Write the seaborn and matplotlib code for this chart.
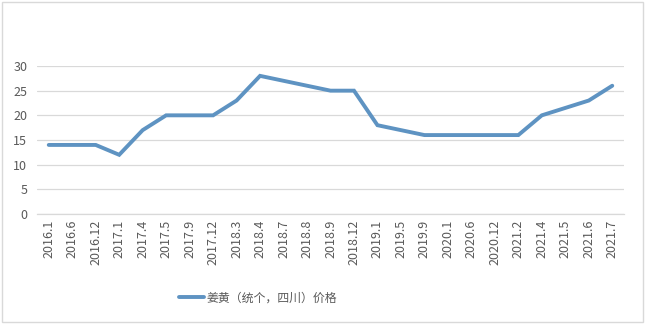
import numpy as np
import pandas as pd
import matplotlib
matplotlib.use("Agg")
import matplotlib.pyplot as plt
from matplotlib.patches import Rectangle
from matplotlib.lines import Line2D
import seaborn as sns

categories = ["2016.1", "2016.6", "2016.12", "2017.1", "2017.4", "2017.5", "2017.9",
              "2017.12", "2018.3", "2018.4", "2018.7", "2018.8", "2018.9", "2018.12",
              "2019.1", "2019.5", "2019.9", "2020.1", "2020.6", "2020.12", "2021.2",
              "2021.4", "2021.5", "2021.6", "2021.7"]
prices = [14, 14, 14, 12, 17, 20, 20, 20, 23, 28, 27, 26, 25, 25,
          18, 17, 16, 16, 16, 16, 16, 20, 21.5, 23, 26]
series_name = "姜黄（统个，四川）价格"
y_ticks = [0, 5, 10, 15, 20, 25, 30]

sns.set_theme(style="white")
plt.rcParams['font.family'] = ['Noto Sans CJK SC', 'DejaVu Sans']

df = pd.DataFrame({"pos": np.arange(len(categories)), "price": prices, "series": series_name})

fig = plt.figure(figsize=(6.52, 3.29), dpi=100)
ax = fig.add_axes([37/652, 1-214/329, (624-37)/652, (214-66)/329])

line_color = "#5E93C2"
sns.lineplot(data=df, x="pos", y="price", hue="series", palette=[line_color],
             linewidth=2.8, ax=ax, legend=False, solid_joinstyle="miter")

ax.set_xlim(-0.5, len(categories) - 0.5)
ax.set_ylim(0, 30)
ax.set_yticks(y_ticks)
ax.set_xticks(np.arange(len(categories)))
ax.set_xticklabels(categories, rotation=90)
ax.set_xlabel("")
ax.set_ylabel("")
ax.grid(axis="y", color="#D9D9D9", linewidth=0.9)
ax.set_axisbelow(True)
for s in ["top", "right", "left"]:
    ax.spines[s].set_visible(False)
ax.spines["bottom"].set_color("#D9D9D9")
ax.spines["bottom"].set_linewidth(0.9)
ax.tick_params(axis="both", length=0, labelsize=9, colors="#595959", pad=4)
ax.tick_params(axis="y", pad=7)

handle = Line2D([0], [0], color=line_color, linewidth=2.8)
fig.legend([handle], [series_name], loc="center", bbox_to_anchor=(258/652, 1-298/329),
           frameon=False, fontsize=8.6, handlelength=2.1, handletextpad=0.2,
           labelcolor="#595959")

# chart border
fig.patches.append(Rectangle((2/652, 1-322/329), (643-2)/652, (322-2)/329,
                             transform=fig.transFigure, fill=False,
                             edgecolor="#D9D9D9", linewidth=1.0))

fig.savefig("out.png", dpi=100, facecolor="white")
